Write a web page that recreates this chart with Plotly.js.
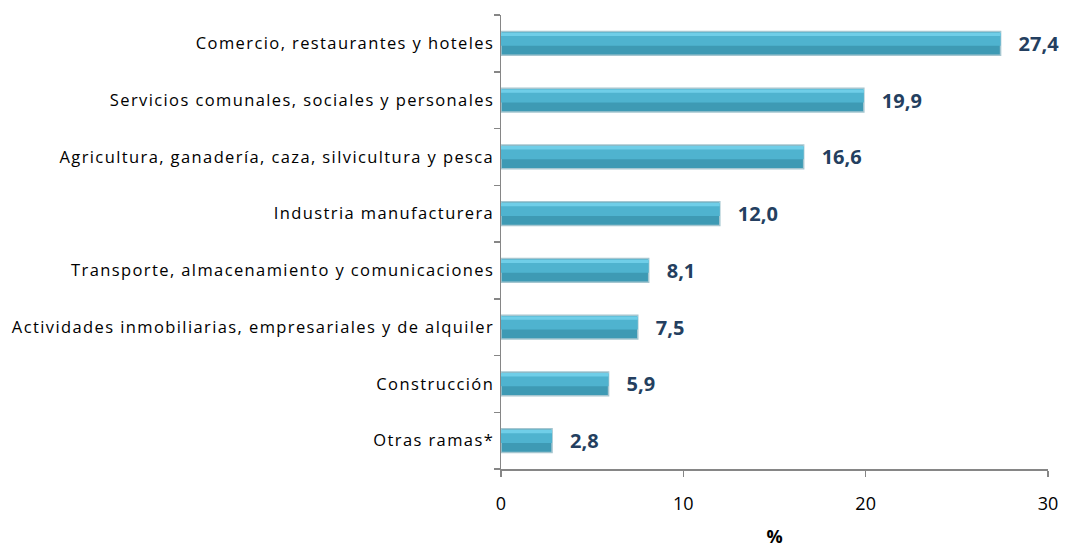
<!DOCTYPE html>
<html><head><meta charset="utf-8">
<script src="https://cdn.plot.ly/plotly-3.0.1.min.js"></script>
<style>html,body{margin:0;padding:0;background:#fff}#chart{width:1068px;height:548px}
#chart .ytick text{letter-spacing:1.4px}</style>
</head><body><div id="chart"></div>
<script>
const categories = [
  "Otras ramas*",
  "Construcción",
  "Actividades inmobiliarias, empresariales y de alquiler",
  "Transporte, almacenamiento y comunicaciones",
  "Industria manufacturera",
  "Agricultura, ganadería, caza, silvicultura y pesca",
  "Servicios comunales, sociales y personales",
  "Comercio, restaurantes y hoteles"
];
const values = [2.8, 5.9, 7.5, 8.1, 12.0, 16.6, 19.9, 27.4];
const xTicks = [0, 10, 20, 30];

const labels = values.map(v => '\u2002\u2005' + v.toFixed(1).replace('.', ','));

const base = {
  type: 'bar', orientation: 'h', y: categories, x: values,
  hoverinfo: 'none', cliponaxis: false
};

Plotly.newPlot('chart', [
  Object.assign({}, base, {
    text: labels, textposition: 'outside', constraintext: 'none',
    textfont: {family: 'Open Sans, sans-serif', size: 20, color: '#243F60', weight: 'bold'},
    marker: {color: '#3E9AB4', line: {color: '#A5C6D0', width: 1.5}},
    width: 0.42, offset: -0.21
  }),
  Object.assign({}, base, {
    marker: {color: '#4FB3CF', line: {width: 0}},
    width: 0.22, offset: -0.04
  }),
  Object.assign({}, base, {
    marker: {color: '#6FCEE8', line: {width: 0}},
    width: 0.06, offset: 0.13
  })
], {
  width: 1068, height: 548,
  barmode: 'overlay',
  margin: {l: 501, r: 20, t: 15, b: 79},
  paper_bgcolor: '#fff', plot_bgcolor: '#fff',
  showlegend: false,
  font: {family: 'Open Sans, sans-serif', color: '#000'},
  xaxis: {
    range: [0, 30], tickvals: xTicks, ticktext: xTicks.map(String),
    showgrid: false, zeroline: false,
    showline: true, linecolor: '#868686', linewidth: 1.5,
    ticks: 'outside', ticklen: 6, tickcolor: '#868686', tickwidth: 1.5,
    tickfont: {size: 18, color: '#000'},
    ticklabelstandoff: 12,
    title: {text: '%', font: {size: 18, color: '#000', weight: 'bold'}, standoff: 18}
  },
  yaxis: {
    showgrid: false, zeroline: false,
    showline: true, linecolor: '#868686', linewidth: 1.5,
    ticks: 'outside', tickson: 'boundaries', ticklen: 6, tickcolor: '#868686', tickwidth: 1.5,
    tickfont: {size: 16.5, color: '#000'},
    ticklabelstandoff: 2
  }
}, {displayModeBar: false, staticPlot: true});
</script></body></html>
